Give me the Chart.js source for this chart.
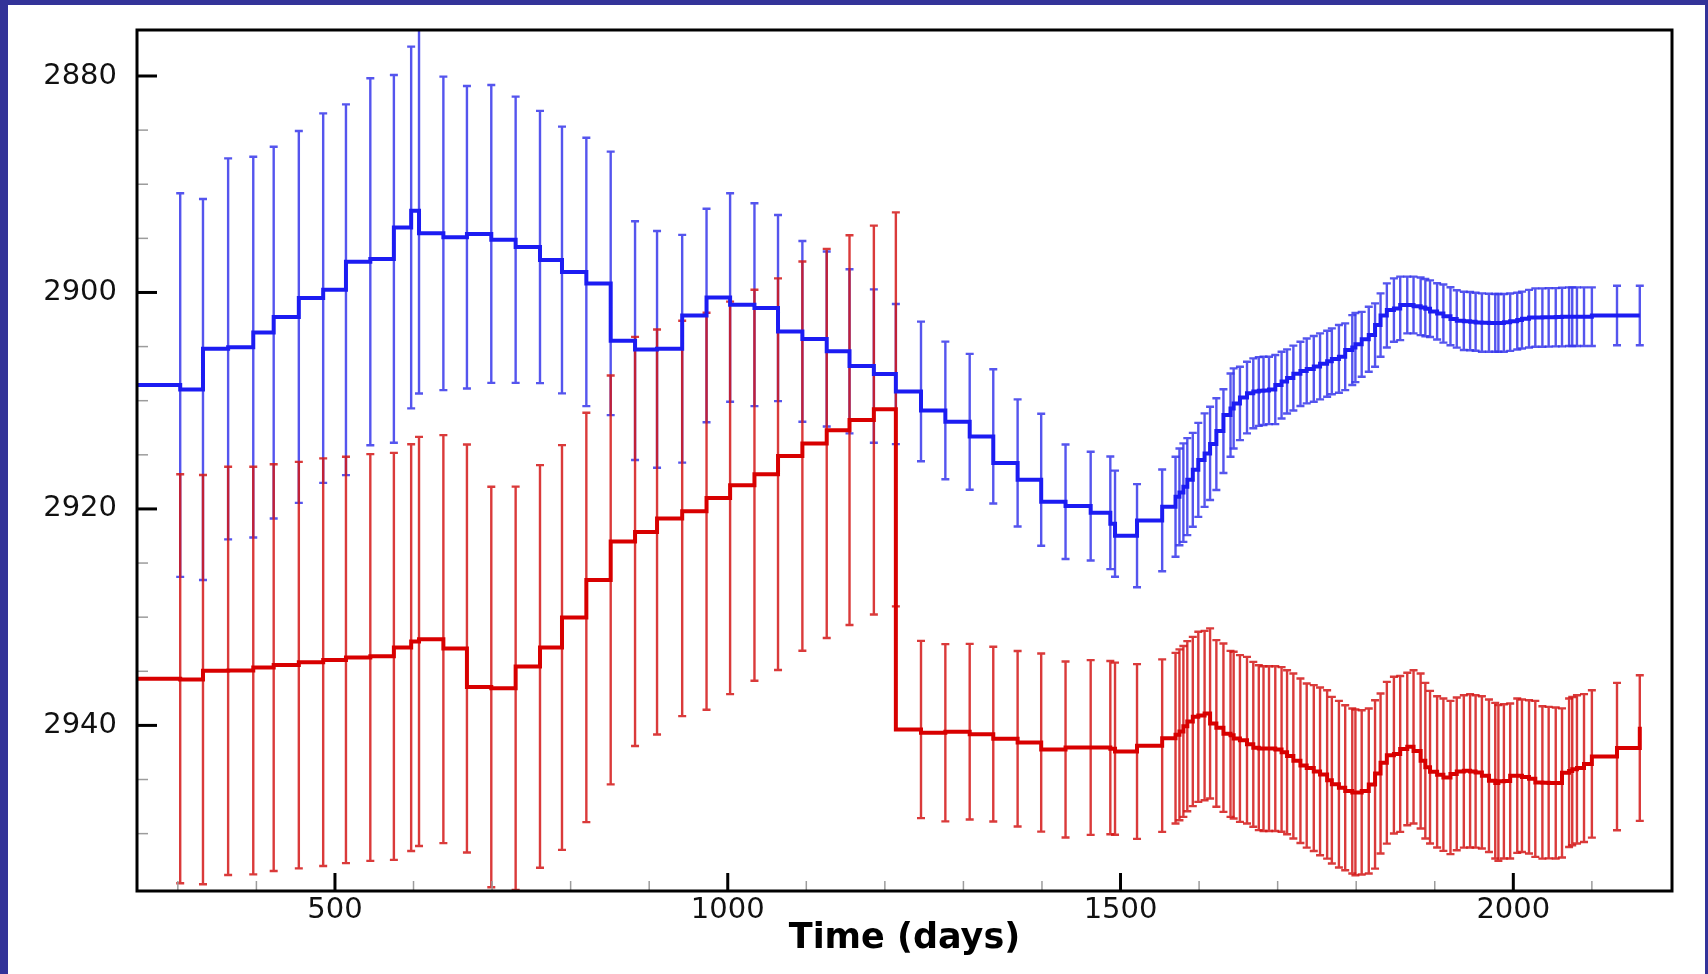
<!DOCTYPE html>
<html>
<head>
<meta charset="utf-8">
<title>Time (days)</title>
<script src="https://cdn.jsdelivr.net/npm/chart.js@4/dist/chart.umd.min.js"></script>
<style>
  html, body { margin:0; padding:0; background:#fff; }
  canvas { display:block; }
</style>
</head>
<body>
<canvas id="c" width="1708" height="974"></canvas>
<script>
// ── data ────────────────────────────────────────────────────────────────────
const days = [
  303, 332, 364, 396, 422, 454, 485, 514, 545, 575, 597, 607, 638, 668, 699, 730, 761, 789, 820,
  851, 882, 910, 942, 973, 1003, 1034, 1064, 1095, 1126, 1155, 1186, 1214, 1246, 1277, 1308, 1338,
  1369, 1399, 1430, 1462, 1487, 1493, 1521, 1553,
  1570, 1575, 1580, 1585, 1592, 1599, 1607, 1614, 1622, 1631,
  1640, 1644, 1652, 1661, 1669, 1676, 1682, 1689, 1697, 1705,
  1712, 1720, 1729, 1737, 1746, 1754, 1763, 1769, 1778, 1786,
  1795, 1799, 1807, 1816, 1824, 1831, 1839, 1848, 1856, 1865,
  1873, 1882, 1888, 1894, 1903, 1911, 1920, 1928, 1937, 1945,
  1952, 1960, 1969, 1977, 1981, 1988, 1996, 2005, 2011, 2020,
  2028, 2037, 2045, 2054, 2062, 2071, 2075, 2081, 2090, 2100,
  2132, 2161
];

const blueVal = [
  2908.56, 2908.97, 2905.21, 2905.05, 2903.71, 2902.26, 2900.52, 2899.75, 2897.16, 2896.90,
  2894.00, 2892.45, 2894.54, 2894.90, 2894.59, 2895.13, 2895.80, 2897.00, 2898.10,
  2899.16, 2904.45, 2905.26, 2905.20, 2902.13, 2900.47, 2901.13, 2901.44, 2903.60, 2904.30,
  2905.44, 2906.80, 2907.54, 2909.14, 2910.90, 2911.95, 2913.30, 2915.75, 2917.30, 2919.33,
  2919.74, 2920.36, 2921.36, 2922.47, 2921.06,
  2919.80, 2918.88, 2918.49, 2917.94, 2917.31, 2916.39, 2915.49, 2914.87, 2914.01, 2912.81,
  2911.33, 2910.71, 2910.25, 2909.71, 2909.32, 2909.15, 2909.09, 2909.05, 2908.97, 2908.56,
  2908.22, 2907.91, 2907.52, 2907.25, 2907.06, 2906.83, 2906.59, 2906.36, 2906.14, 2905.94,
  2905.32, 2905.09, 2904.79, 2904.32, 2903.94, 2903.01, 2902.12, 2901.63, 2901.47, 2901.16,
  2901.16, 2901.28, 2901.40, 2901.50, 2901.75, 2901.95, 2902.20, 2902.45, 2902.62, 2902.65,
  2902.70, 2902.78, 2902.80, 2902.81, 2902.81, 2902.81, 2902.75, 2902.65, 2902.55, 2902.42,
  2902.32, 2902.32, 2902.30, 2902.29, 2902.27, 2902.24, 2902.24, 2902.24, 2902.24, 2902.24,
  2902.13, 2902.13
];
const blueErr = [
  17.72, 17.60, 17.60, 17.59, 17.17, 17.18, 17.07, 17.13, 16.95, 16.99,
  16.71, 16.88, 14.48, 13.97, 13.76, 13.22, 12.58, 12.32, 12.40,
  12.17, 11.03, 10.94, 10.52, 9.86, 9.63, 9.37, 8.60, 8.35, 8.09,
  7.58, 7.09, 6.47, 6.45, 6.36, 6.28, 6.20, 5.87, 6.10, 5.29,
  5.02, 5.20, 4.90, 4.76, 4.70,
  4.62, 4.47, 4.55, 4.48, 4.34, 4.34, 4.32, 4.31, 4.24, 3.87,
  3.85, 3.70, 3.39, 3.31, 3.23, 3.18, 3.16, 3.11, 3.19, 3.08,
  2.96, 3.00, 2.97, 3.00, 3.04, 3.05, 3.05, 3.04, 3.13, 3.08,
  3.23, 3.19, 3.00, 3.00, 2.93, 2.93, 2.96, 2.93, 2.93, 2.62,
  2.62, 2.66, 2.64, 2.62, 2.60, 2.68, 2.68, 2.65, 2.69, 2.69,
  2.68, 2.70, 2.68, 2.67, 2.67, 2.67, 2.65, 2.62, 2.63, 2.66,
  2.70, 2.70, 2.70, 2.69, 2.71, 2.71, 2.71, 2.71, 2.71, 2.71,
  2.75, 2.75
];

const redVal = [
  2935.69, 2935.77, 2934.96, 2934.93, 2934.66, 2934.43, 2934.16, 2933.95, 2933.73, 2933.62,
  2932.81, 2932.24, 2932.03, 2932.89, 2936.45, 2936.57, 2934.55, 2932.80, 2930.03,
  2926.56, 2923.00, 2922.13, 2920.88, 2920.22, 2918.98, 2917.81, 2916.79, 2915.12, 2913.95,
  2912.72, 2911.79, 2910.80, 2940.38, 2940.68, 2940.58, 2940.81, 2941.23, 2941.58, 2942.23,
  2942.04, 2942.05, 2942.15, 2942.41, 2941.87,
  2941.18, 2940.87, 2940.56, 2940.07, 2939.64, 2939.21, 2939.09, 2938.90, 2939.82, 2940.21,
  2940.78, 2940.90, 2941.21, 2941.37, 2941.75, 2942.06, 2942.14, 2942.14, 2942.14, 2942.22,
  2942.48, 2942.83, 2943.26, 2943.71, 2943.94, 2944.25, 2944.53, 2945.06, 2945.43, 2945.76,
  2946.06, 2946.19, 2946.19, 2946.06, 2945.45, 2944.44, 2943.45, 2942.75, 2942.64, 2942.18,
  2941.98, 2942.37, 2943.26, 2943.86, 2944.29, 2944.55, 2944.81, 2944.48, 2944.25, 2944.20,
  2944.25, 2944.34, 2944.65, 2945.11, 2945.32, 2945.17, 2945.14, 2944.65, 2944.65, 2944.76,
  2944.94, 2945.27, 2945.29, 2945.32, 2945.32, 2944.37, 2944.22, 2944.06, 2943.94, 2943.56,
  2942.88, 2942.09
];
const redErr = [
  18.90, 18.90, 18.86, 18.83, 18.79, 18.78, 18.83, 18.77, 18.79, 18.80,
  18.79, 18.90, 18.85, 18.85, 18.50, 18.63, 18.60, 18.70, 18.91,
  18.89, 18.90, 18.71, 18.26, 18.34, 18.13, 18.06, 18.09, 17.98, 17.98,
  18.00, 17.97, 18.20, 8.19, 8.19, 8.11, 8.07, 8.11, 8.23, 8.13,
  8.07, 8.00, 7.95, 8.07, 7.97,
  7.88, 7.89, 7.89, 7.86, 7.82, 7.86, 7.82, 7.86, 7.70, 7.78,
  7.67, 7.70, 7.70, 7.70, 7.62, 7.62, 7.61, 7.61, 7.61, 7.60,
  7.58, 7.62, 7.60, 7.58, 7.66, 7.75, 7.78, 7.70, 7.70, 7.62,
  7.62, 7.66, 7.59, 7.62, 7.78, 7.39, 7.47, 7.24, 7.20, 7.04,
  7.08, 7.16, 7.19, 7.05, 6.99, 7.04, 7.08, 7.06, 7.04, 7.08,
  7.04, 7.04, 7.04, 7.19, 7.19, 7.13, 7.16, 7.13, 7.04, 7.08,
  7.21, 7.04, 7.00, 6.98, 6.89, 6.86, 6.85, 6.85, 6.83, 6.81,
  6.81, 6.73
];
const redEndValue = 2940.13;   // the red curve closes with a small step up at its last day

const xTicks = [500, 1000, 1500, 2000];
const yTicks = [2880, 2900, 2920, 2940];
const X_MIN = 248, X_MAX = 2202;
const Y_MIN = 2875.75, Y_MAX = 2955.3;
const X_MINOR = 100, Y_MINOR = 5;

// ── styling ────────────────────────────────────────────────────────────────
const FRAME = "#333399";
const FONT = "'DejaVu Sans', 'Liberation Sans', sans-serif";

const stepData = vals => [{ x: X_MIN, y: vals[0] }, ...days.map((d, i) => ({ x: d, y: vals[i] }))];

// blue frame around the white page
const pageBg = {
  id: "pageBg",
  beforeDraw(chart){
    const { ctx, width, height } = chart;
    ctx.save();
    ctx.fillStyle = FRAME; ctx.fillRect(0, 0, width, height);
    ctx.fillStyle = "#fff"; ctx.fillRect(8, 5, width - 11, height - 5);
    ctx.restore();
  }
};

// vertical error bars with caps, under the step lines
const errorBars = {
  id: "errorBars",
  beforeDatasetsDraw(chart){
    const { ctx, chartArea: a, scales: { x, y } } = chart;
    ctx.save();
    ctx.beginPath(); ctx.rect(a.left, a.top, a.right - a.left, a.bottom - a.top); ctx.clip();
    chart.data.datasets.forEach(ds => {
      ctx.strokeStyle = ds.barColor; ctx.lineWidth = 2.4;
      ds.errors.forEach((e, i) => {
        const px = x.getPixelForValue(days[i]);
        const t = y.getPixelForValue(ds.values[i] - e);
        const b = y.getPixelForValue(ds.values[i] + e);
        ctx.beginPath();
        ctx.moveTo(px, t); ctx.lineTo(px, b);
        ctx.moveTo(px - 4, t); ctx.lineTo(px + 4, t);
        ctx.moveTo(px - 4, b); ctx.lineTo(px + 4, b);
        ctx.stroke();
      });
    });
    ctx.restore();
  }
};

// box frame with inward ticks (major black, minor grey)
const frame = {
  id: "frame",
  afterDraw(chart){
    const { ctx, chartArea: a, scales: { x, y } } = chart;
    const seg = (x1, y1, x2, y2) => { ctx.beginPath(); ctx.moveTo(x1, y1); ctx.lineTo(x2, y2); ctx.stroke(); };
    ctx.save();
    ctx.strokeStyle = "#9c9c9c"; ctx.lineWidth = 1.5;
    for (let v = Math.ceil(X_MIN / X_MINOR) * X_MINOR; v < X_MAX; v += X_MINOR){
      if (xTicks.includes(v)) continue;
      const px = x.getPixelForValue(v);
      if (px - a.left < 6 || a.right - px < 6) continue;
      seg(px, a.bottom, px, a.bottom - 10);
    }
    for (let v = Math.ceil(Y_MIN / Y_MINOR) * Y_MINOR; v < Y_MAX; v += Y_MINOR){
      if (yTicks.includes(v)) continue;
      const py = y.getPixelForValue(v);
      if (py - a.top < 6 || a.bottom - py < 6) continue;
      seg(a.left, py, a.left + 11, py);
    }
    ctx.strokeStyle = "#000"; ctx.lineWidth = 3;
    xTicks.forEach(v => { const px = x.getPixelForValue(v); seg(px, a.bottom, px, a.bottom - 18); });
    yTicks.forEach(v => { const py = y.getPixelForValue(v); seg(a.left, py, a.left + 20, py); });
    ctx.strokeRect(a.left, a.top, a.right - a.left, a.bottom - a.top);
    ctx.restore();
  }
};

const tickFont = { family: FONT, size: 29 };

new Chart(document.getElementById("c"), {
  type: "line",
  data: {
    datasets: [
      { label: "upper", data: stepData(blueVal), values: blueVal, errors: blueErr,
        borderColor: "#1c1cf2", barColor: "rgba(55,55,235,0.85)",
        borderWidth: 4, stepped: "after", pointRadius: 0, fill: false },
      { label: "lower", data: [...stepData(redVal), { x: days[days.length - 1], y: redEndValue }],
        values: redVal, errors: redErr,
        borderColor: "#d80000", barColor: "rgba(212,24,24,0.85)",
        borderWidth: 4, stepped: "after", pointRadius: 0, fill: false }
    ]
  },
  options: {
    responsive: false, animation: false, devicePixelRatio: 1,
    layout: { padding: { left: 0, right: 36, top: 30, bottom: 0 } },
    plugins: { legend: { display: false }, tooltip: { enabled: false } },
    scales: {
      x: {
        type: "linear", min: X_MIN, max: X_MAX,
        grid: { display: false, drawTicks: false }, border: { display: false },
        afterBuildTicks: s => { s.ticks = xTicks.map(v => ({ value: v })); },
        afterFit: s => { s.height = 83; s.paddingLeft = 0; s.paddingRight = 0; },
        ticks: { font: tickFont, color: "#111", padding: 2, maxRotation: 0, autoSkip: false,
                 callback: v => String(v) },
        title: { display: true, text: "Time (days)", color: "#000",
                 font: { family: FONT, size: 35, weight: "bold" }, padding: { top: 0, bottom: 14 } }
      },
      y: {
        type: "linear", reverse: true, min: Y_MIN, max: Y_MAX,
        grid: { display: false, drawTicks: false }, border: { display: false },
        afterBuildTicks: s => { s.ticks = yTicks.map(v => ({ value: v })); },
        afterFit: s => { s.width = 137; s.paddingTop = 0; s.paddingBottom = 0; },
        ticks: { font: tickFont, color: "#111", padding: 20, autoSkip: false,
                 callback: v => String(v) }
      }
    }
  },
  plugins: [pageBg, errorBars, frame]
});
</script>
</body>
</html>
